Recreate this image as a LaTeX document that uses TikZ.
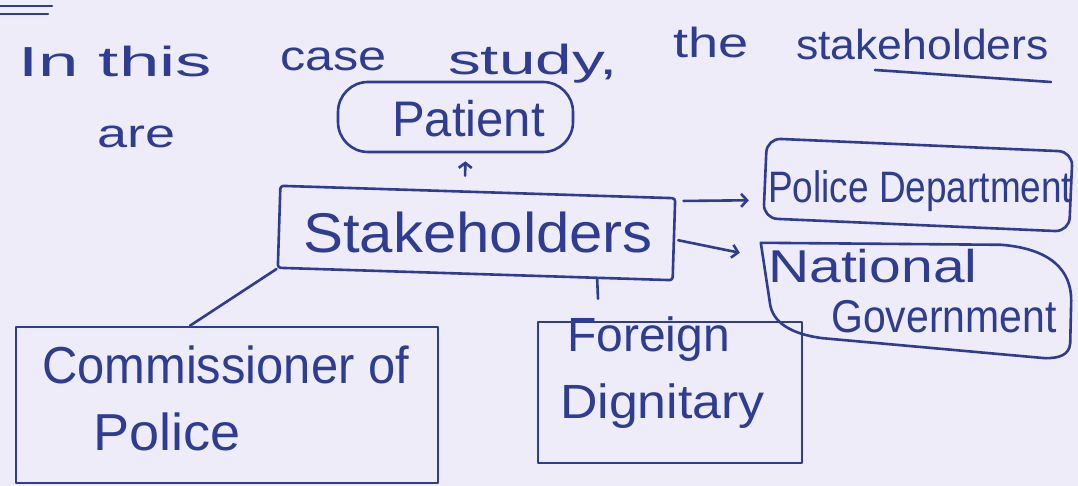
\documentclass[tikz,border=0pt]{standalone}
\usepackage{fontspec}
\usepackage{graphicx}
\setmainfont{Liberation Sans}
\usetikzlibrary{arrows.meta,calc}
\definecolor{ink}{RGB}{46,60,145}
\definecolor{paper}{RGB}{237,236,248}
\newcommand\hw[3]{\fontsize{#1}{#1}\selectfont\scalebox{#2}[1]{#3}}
\begin{document}
\begin{tikzpicture}[x=1pt,y=-1pt,
  pen/.style={draw=ink, line width=2.6pt, line cap=round, line join=round},
  box/.style={pen, inner sep=0pt, anchor=center},
  lbl/.style={text=ink, inner sep=0pt, anchor=base west},
  arr/.style={pen, -{Straight Barb[length=6pt,width=13pt]}},
  smallarr/.style={pen, -{Straight Barb[length=5pt,width=13pt]}},
]
\fill[paper] (0,0) rectangle (1078,486);
\useasboundingbox (0,0) rectangle (1078,486);

% top marks and underline
\draw[pen] (0,6) -- (52,6);
\draw[pen] (0,14) -- (48,14);
\draw[pen] (875,70) -- (1051,82);

% title
\node[lbl] (t1) at (18,77) {\hw{42}{1.73}{In this}};
\node[lbl] (t2) at (280,71) {\hw{42}{1.2}{case}};
\node[lbl] (t3) at (448,75) {\hw{42}{1.56}{study,}};
\node[lbl] (t4) at (673,58) {\hw{42}{1.29}{the}};
\node[lbl] (t5) at (796,60) {\hw{42}{1.06}{stakeholders}};
\node[lbl] (t6) at (97,148) {\hw{40}{1.35}{are}};

% boxes
\node[box, minimum width=235pt, minimum height=70pt, rounded corners=30pt] (patient) at (455.5,117) {};
\node[box, minimum width=395pt, minimum height=82pt, rotate=-1.8, rounded corners=3pt] (stake) at (476.5,233) {};
\node[box, minimum width=306pt, minimum height=80pt, rotate=-2.5, rounded corners=14pt] (police) at (918,185) {};
\node[inner sep=0pt, minimum width=310pt, minimum height=115pt] (national) at (916,300.5) {};
\draw[pen] (national.north west) -- ($(national.north east)+(-70,2)$)
  .. controls ($(national.north east)+(-20,6)$) and ($(national.east)+(0,-30)$) .. ($(national.east)+(0,0)$)
  -- ($(national.south east)+(-1,-15)$)
  .. controls ($(national.south east)+(-2,-3)$) and ($(national.south east)+(-12,0)$) .. ($(national.south east)+(-26,0)$)
  -- ($(national.south west)+(62,-20)$)
  .. controls ($(national.south west)+(30,-24)$) and ($(national.south west)+(11,-36)$) .. ($(national.south west)+(9,-56)$)
  -- cycle;
\node[box, minimum width=422pt, minimum height=156pt] (comm) at (227,405) {};
\node[box, minimum width=264pt, minimum height=141pt] (foreign) at (670,392.5) {};

% box texts
\node[lbl] (patienttxt) at (392,137) {\hw{50}{0.98}{Patient}};
\node[lbl] (staketxt) at (303,253) {\hw{56}{1.07}{Stakeholders}};
\node[lbl] (policetxt) at (768,203) {\hw{44}{0.84}{Police Department}};
\node[lbl] (nattxt1) at (768,283) {\hw{46}{1.24}{National}};
\node[lbl] (nattxt2) at (831,332) {\hw{46}{0.89}{Government}};
\node[lbl] (commtxt1) at (42,383) {\hw{52}{0.94}{Commissioner of}};
\node[lbl] (commtxt2) at (93,450) {\hw{52}{1.04}{Police}};
\node[lbl] (fortxt1) at (567,351) {\hw{48}{1.0}{Foreign}};
\node[lbl] (fortxt2) at (560,418) {\hw{48}{1.08}{Dignitary}};

% connectors
\draw[smallarr, shorten <=15pt, shorten >=8pt] ([xshift=-13pt]stake.north) -- ([xshift=10pt]patient.south);
\draw[arr] ($(stake.north east)+(7,4)$) -- ($(police.west)+(-15,22)$);
\draw[arr] ($(stake.east)+(3,1)$) -- ($(national.north west)+(-21,10)$);
\draw[pen] (stake.south west) -- ($(comm.north)+(-37,0)$);
\draw[pen] ($(stake.south)+(122,4)$) -- ($(foreign.north)+(-72,-22)$);
\end{tikzpicture}
\end{document}
